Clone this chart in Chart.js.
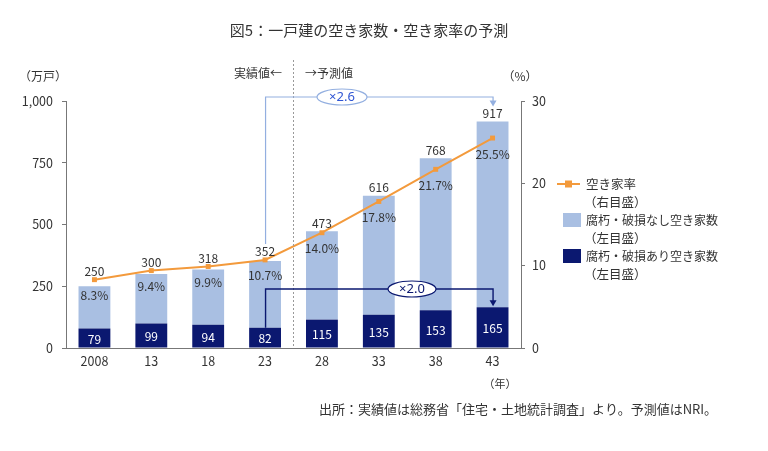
<!DOCTYPE html>
<html lang="ja">
<head>
<meta charset="utf-8">
<title>図5：一戸建の空き家数・空き家率の予測</title>
<script src="https://cdn.jsdelivr.net/npm/chart.js@4"></script>
<style>
  html, body { margin: 0; padding: 0; background: #fff; }
  #wrap { position: relative; width: 768px; height: 451px; }
</style>
</head>
<body>
<div id="wrap"><canvas id="grafico" width="768" height="451"></canvas></div>
<script>
// ---- dados ----
const ANOS       = ['2008','13','18','23','28','33','38','43'];
const TOTAL      = [250, 300, 318, 352, 473, 616, 768, 917];
const COM_DANO   = [79, 99, 94, 82, 115, 135, 153, 165];
const SEM_DANO   = [171, 201, 224, 270, 358, 481, 615, 752];
const TAXA       = [8.3, 9.4, 9.9, 10.7, 14.0, 17.8, 21.7, 25.5];
const TICKS_ESQ  = [0, 250, 500, 750, 1000];
const TICKS_DIR  = [0, 10, 20, 30];

const FONTE = '"Noto Sans CJK JP", "Noto Sans", sans-serif';
const TXT   = '#333333';
const EIXO  = '#777777';
const COR = {
  azulClaro: '#a9bfe2',
  marinho:   '#0b1870',
  laranja:   '#f39a3c',
  linhaAzul: '#93afe0',
  x26:       '#2f55d4',
};

function fonte(px) { return `${px}px ${FONTE}`; }

function texto(ctx, s, x, y, px, cor, align, familia) {
  ctx.font = familia ? `${px}px ${familia}` : fonte(px);
  ctx.fillStyle = cor || TXT;
  ctx.textAlign = align || 'center';
  ctx.textBaseline = 'middle';
  ctx.fillText(s, x, y);
}

function oval(ctx, cx, cy, rx, ry, borda, s, corTxt) {
  ctx.beginPath();
  ctx.ellipse(cx, cy, rx, ry, 0, 0, Math.PI * 2);
  ctx.fillStyle = '#fff';
  ctx.fill();
  ctx.lineWidth = 1.2;
  ctx.strokeStyle = borda;
  ctx.stroke();
  texto(ctx, s, cx, cy, 13, corTxt, 'center', '"Noto Sans", sans-serif');
}

function seta(ctx, x, y, cor) {
  ctx.beginPath();
  ctx.moveTo(x - 3.5, y - 6);
  ctx.lineTo(x + 3.5, y - 6);
  ctx.lineTo(x, y);
  ctx.closePath();
  ctx.fillStyle = cor;
  ctx.fill();
}

// ---- rótulos, anotações e legenda ----
const desenhos = {
  id: 'desenhos',
  afterDatasetsDraw(chart) {
    const { ctx, scales: { x, y, y1 } } = chart;
    ctx.save();
    ANOS.forEach((_, i) => {
      const px = x.getPixelForValue(i);
      const topo = y.getPixelForValue(TOTAL[i]);
      const pt = y1.getPixelForValue(TAXA[i]);
      texto(ctx, String(TOTAL[i]), px, Math.min(topo, pt) - 8, 12);
      texto(ctx, TAXA[i].toFixed(1) + '%', px, pt + 16, 12);
      const meio = (y.getPixelForValue(0) + y.getPixelForValue(COM_DANO[i])) / 2;
      texto(ctx, String(COM_DANO[i]), px, meio + 1, 12, '#ffffff');
    });
    ctx.restore();
  },
  afterDraw(chart) {
    const { ctx, chartArea: area, scales: { x, y, y1 } } = chart;
    ctx.save();

    // título e textos soltos
    texto(ctx, '図5：一戸建の空き家数・空き家率の予測', 369, 30, 15);
    texto(ctx, '（万戸）', 43, 76, 12);
    texto(ctx, '（%）', 520, 76, 12);
    texto(ctx, '実績値←', 282, 73, 12, TXT, 'right');
    texto(ctx, '→予測値', 305, 73, 12, TXT, 'left');
    texto(ctx, '（年）', 500, 384, 11);
    texto(ctx, '出所：実績値は総務省「住宅・土地統計調査」より。予測値はNRI。', 518, 409, 13);

    // linha pontilhada entre 23 e 28
    const xDiv = (x.getPixelForValue(3) + x.getPixelForValue(4)) / 2;
    ctx.beginPath();
    ctx.setLineDash([2, 2]);
    ctx.moveTo(xDiv, 60);
    ctx.lineTo(xDiv, area.bottom);
    ctx.strokeStyle = '#999';
    ctx.lineWidth = 1;
    ctx.stroke();
    ctx.setLineDash([]);

    const x23 = x.getPixelForValue(3), x43 = x.getPixelForValue(7);

    // ×2.6 (total)
    const yTopo = area.top - 4;
    const y352 = Math.min(y.getPixelForValue(TOTAL[3]), y1.getPixelForValue(TAXA[3])) - 16;
    const y917 = y.getPixelForValue(TOTAL[7]) - 16;
    ctx.beginPath();
    ctx.moveTo(x23 + 0.5, y352);
    ctx.lineTo(x23 + 0.5, yTopo);
    ctx.lineTo(x43 + 0.5, yTopo);
    ctx.lineTo(x43 + 0.5, y917 - 4);
    ctx.strokeStyle = COR.linhaAzul;
    ctx.lineWidth = 1.2;
    ctx.stroke();
    seta(ctx, x43 + 0.5, y917 + 1, COR.linhaAzul);
    oval(ctx, 342, yTopo, 25, 8, COR.linhaAzul, '×2.6', COR.x26);

    // ×2.0 (com dano)
    const yNivel = 289;
    const y82 = y.getPixelForValue(COM_DANO[3]);
    const y165 = y.getPixelForValue(COM_DANO[7]) - 1;
    ctx.beginPath();
    ctx.moveTo(x23 + 0.5, y82);
    ctx.lineTo(x23 + 0.5, yNivel);
    ctx.lineTo(x43 + 0.5, yNivel);
    ctx.lineTo(x43 + 0.5, y165 - 5);
    ctx.strokeStyle = COR.marinho;
    ctx.lineWidth = 1.4;
    ctx.stroke();
    seta(ctx, x43 + 0.5, y165, COR.marinho);
    oval(ctx, 412, yNivel, 24, 8, COR.marinho, '×2.0', COR.marinho);

    // legenda
    const lx = 557, tx = 586;
    ctx.beginPath();
    ctx.moveTo(lx, 184);
    ctx.lineTo(lx + 23, 184);
    ctx.strokeStyle = COR.laranja;
    ctx.lineWidth = 2;
    ctx.stroke();
    ctx.fillStyle = COR.laranja;
    ctx.fillRect(lx + 8, 180.5, 7, 7);
    texto(ctx, chart.data.datasets[2].label, tx, 184, 12.5, TXT, 'left');
    texto(ctx, '（右目盛）', tx - 2, 202, 12.5, TXT, 'left');

    ctx.fillStyle = COR.azulClaro;
    ctx.fillRect(563, 213, 18, 14);
    texto(ctx, chart.data.datasets[1].label, tx, 220, 12, TXT, 'left');
    texto(ctx, '（左目盛）', tx - 2, 238, 12.5, TXT, 'left');

    ctx.fillStyle = COR.marinho;
    ctx.fillRect(563, 249, 18, 14);
    texto(ctx, chart.data.datasets[0].label, tx, 256, 12, TXT, 'left');
    texto(ctx, '（左目盛）', tx - 2, 274, 12.5, TXT, 'left');

    ctx.restore();
  }
};

Chart.defaults.font.family = FONTE;
Chart.defaults.color = TXT;

new Chart(document.getElementById('grafico').getContext('2d'), {
  type: 'bar',
  data: {
    labels: ANOS,
    datasets: [
      { type: 'bar', label: '腐朽・破損あり空き家数', data: COM_DANO,
        backgroundColor: COR.marinho, stack: 's', yAxisID: 'y', order: 2,
        barPercentage: 0.56, categoryPercentage: 1 },
      { type: 'bar', label: '腐朽・破損なし空き家数', data: SEM_DANO,
        backgroundColor: COR.azulClaro, stack: 's', yAxisID: 'y', order: 2,
        barPercentage: 0.56, categoryPercentage: 1 },
      { type: 'line', label: '空き家率', data: TAXA, yAxisID: 'y1', order: 0,
        borderColor: COR.laranja, backgroundColor: COR.laranja, borderWidth: 2,
        pointStyle: 'rect', pointRadius: 3.5, pointBorderWidth: 0, tension: 0 },
    ]
  },
  options: {
    responsive: false,
    devicePixelRatio: 1,
    animation: false,
    layout: { padding: { top: 101, left: 0, right: 0, bottom: 0 } },
    plugins: { legend: { display: false }, tooltip: { enabled: false } },
    scales: {
      x: {
        stacked: true,
        grid: { display: false, drawTicks: false },
        border: { color: EIXO },
        ticks: { padding: 6, font: { size: 12.5 }, color: TXT },
        afterFit: s => { s.height = 103; },
      },
      y: {
        position: 'left', stacked: true, min: 0, max: 1000,
        grid: { drawOnChartArea: false, tickLength: 4, color: EIXO },
        border: { color: EIXO },
        afterBuildTicks: s => { s.ticks = TICKS_ESQ.map(v => ({ value: v })); },
        ticks: { padding: 9, font: { size: 12.5 }, color: TXT,
          callback: v => v.toLocaleString('en-US') },
        afterFit: s => { s.width = 66; },
      },
      y1: {
        position: 'right', min: 0, max: 30,
        grid: { drawOnChartArea: false, tickLength: 4, color: EIXO },
        border: { color: EIXO },
        afterBuildTicks: s => { s.ticks = TICKS_DIR.map(v => ({ value: v })); },
        ticks: { padding: 7, font: { size: 12.5 }, color: TXT },
        afterFit: s => { s.width = 247; },
      },
    }
  },
  plugins: [desenhos]
});
</script>
</body>
</html>
